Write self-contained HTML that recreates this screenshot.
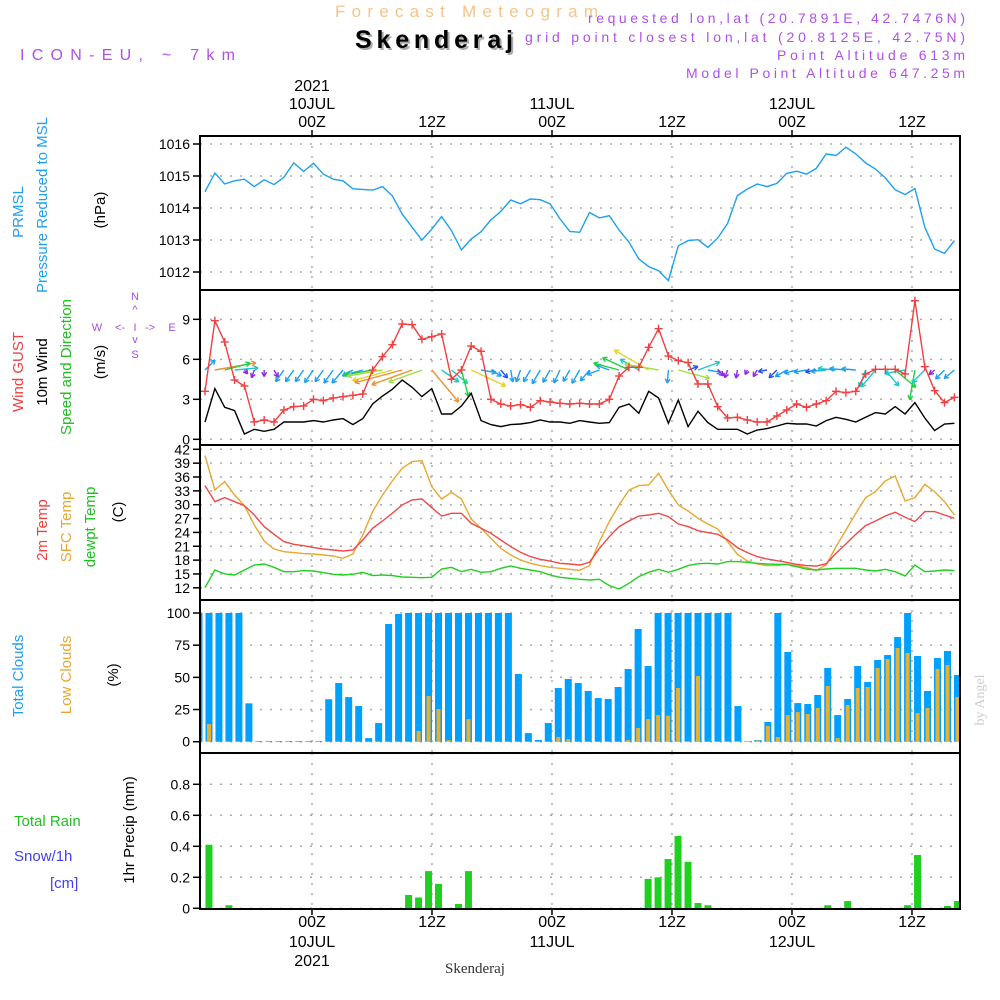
<!DOCTYPE html>
<html><head><meta charset="utf-8">
<style>
html,body{margin:0;padding:0;background:#fff;}
svg{display:block;font-family:"Liberation Sans",sans-serif;}
</style></head>
<body>
<svg id="chart" width="1000" height="1000" viewBox="0 0 1000 1000" xmlns="http://www.w3.org/2000/svg">
<rect x="0" y="0" width="1000" height="1000" fill="#fff"/>
<text x="335" y="17" font-size="17" fill="#f5c489" textLength="263">Forecast Meteogram</text>
<text x="357" y="50" font-size="25" font-weight="bold" fill="#aaa" textLength="158">Skenderaj</text>
<text x="355" y="48" font-size="25" font-weight="bold" fill="#000" textLength="158">Skenderaj</text>
<text x="20" y="60" font-size="16" fill="#b050e6" textLength="215">ICON-EU, ~ 7km</text>
<text x="965" y="23" font-size="14" fill="#b050e6" text-anchor="end" textLength="377">requested lon,lat (20.7891E, 42.7476N)</text>
<text x="965" y="42" font-size="14" fill="#b050e6" text-anchor="end" textLength="440">grid point closest lon,lat (20.8125E, 42.75N)</text>
<text x="965" y="60" font-size="14" fill="#b050e6" text-anchor="end" textLength="188">Point Altitude 613m</text>
<text x="965" y="78" font-size="14" fill="#b050e6" text-anchor="end" textLength="279">Model Point Altitude 647.25m</text>
<text x="475" y="973" font-size="15" fill="#333" text-anchor="middle" font-family="Liberation Serif, serif">Skenderaj</text>
<text transform="translate(984,700) rotate(-90)" font-size="14" fill="#ccc" text-anchor="middle" font-family="Liberation Serif, serif">by Angel</text>
<g id="layer"></g>
</svg>
<script>
// ---- data (hourly, index 0..76) ----
const pressure = [1014.51,1015.09,1014.75,1014.85,1014.9,1014.67,1014.88,1014.73,1014.96,1015.41,1015.14,1015.4,1015.06,1014.9,1014.85,1014.6,1014.58,1014.56,1014.67,1014.38,1013.81,1013.4,1013.0,1013.34,1013.73,1013.29,1012.69,1013.03,1013.26,1013.63,1013.89,1014.25,1014.13,1014.28,1014.26,1014.13,1013.66,1013.27,1013.24,1013.86,
1013.69,1013.76,1013.31,1012.93,1012.41,1012.17,1012.04,1011.73,1012.82,1012.98,1013.01,1012.77,1013.06,1013.52,1014.39,1014.59,1014.75,1014.67,1014.77,1015.08,1015.15,1015.06,1015.24,1015.69,1015.64,1015.9,1015.69,1015.41,1015.22,1014.94,1014.57,1014.42,1014.61,1013.4,1012.72,1012.58,1012.98];
const gust = [3.6,8.9,7.3,4.45,4.0,1.3,1.45,1.3,2.2,2.45,2.5,3.0,2.9,3.1,3.2,3.3,3.4,5.2,6.2,7.1,8.65,8.6,7.5,7.7,7.9,4.5,5.2,7.0,6.6,3.0,2.65,2.5,2.6,2.4,2.9,2.8,2.7,2.65,2.7,2.65,
2.65,3.0,4.75,5.4,5.4,6.9,8.3,6.25,5.9,5.75,4.15,4.15,2.45,1.6,1.65,1.45,1.3,1.3,1.75,2.2,2.65,2.4,2.65,2.9,3.6,3.5,3.6,4.9,5.25,5.25,5.25,4.9,10.4,5.45,3.65,2.75,3.15];
const wind10m = [1.3,3.8,2.4,2.15,0.4,0.75,0.6,0.75,1.3,1.3,1.3,1.4,1.3,1.45,1.55,1.1,1.55,2.65,3.25,3.75,4.45,3.9,3.2,3.8,1.9,1.9,2.5,3.45,1.4,1.1,0.95,1.1,1.15,1.25,1.45,1.3,1.3,1.2,1.4,1.3,
1.2,1.25,2.4,2.65,1.95,3.6,3.1,1.2,2.95,0.95,2.1,1.25,0.75,0.75,0.75,0.4,0.7,0.8,1.0,1.2,1.15,1.15,1.0,1.4,1.65,1.5,1.3,1.65,2.0,1.9,2.45,1.9,2.75,1.6,0.65,1.15,1.2];
const windDir = [225,260,255,265,320,20,0,330,35,35,35,35,35,35,40,60,75,80,80,75,75,70,70,320,305,310,345,295,280,300,320,350,20,30,30,30,25,30,30,40,
70,110,105,115,120,120,100,5,285,250,250,280,315,20,10,25,30,80,45,60,75,80,80,85,95,95,95,20,40,320,310,80,10,45,50,45,50];
const temp2m = [34.13,30.66,31.53,30.66,29.8,27.78,25.25,23.59,22.0,21.42,21.13,20.7,20.41,20.2,19.98,20.2,22.36,24.89,26.48,28.14,29.95,31.03,31.24,29.36,27.56,28.14,28.14,25.97,24.89,23.8,22.36,20.92,19.69,18.75,18.17,17.81,17.31,17.16,16.95,
17.52,20.56,23.08,25.25,26.48,27.56,27.78,28.14,27.42,25.83,25.25,24.38,23.95,23.59,22.36,20.7,19.62,18.75,18.25,17.88,17.52,17.09,16.8,16.73,17.23,19.47,21.49,23.59,25.47,26.48,27.56,28.35,27.27,26.33,28.5,28.5,27.78,27.05];
const tempSfc = [40.63,33.19,35.0,32.11,29.8,25.61,22.14,20.41,19.83,19.62,19.4,19.33,19.11,18.9,18.39,19.33,23.44,28.5,32.11,35.14,37.88,39.33,39.55,33.91,31.24,32.69,31.24,26.91,24.89,22.72,20.56,19.11,18.03,17.31,16.8,16.44,16.22,16.0,15.79,
16.8,22.0,26.33,29.95,33.19,34.13,34.27,36.8,33.19,29.95,28.64,27.05,25.83,24.74,22.0,19.26,17.81,17.16,16.8,16.8,17.09,16.8,16.37,15.79,16.95,20.92,24.53,28.14,31.53,32.83,35.14,36.22,30.8,31.53,34.42,32.83,30.66,27.78];
const dewpt = [12.04,15.86,15.0,14.78,15.86,16.95,17.16,16.44,15.5,15.5,15.72,15.65,15.29,14.92,14.78,14.92,15.36,14.64,14.78,14.64,14.35,14.27,14.2,14.27,16.08,16.44,15.5,16.0,15.36,15.5,16.22,16.73,16.22,15.86,15.5,14.78,14.27,14.06,13.84,
13.7,13.84,12.47,11.75,12.97,14.42,15.36,16.01,15.36,16.01,16.8,17.23,17.31,17.16,17.67,17.67,17.52,17.31,17.16,17.09,17.09,16.58,16.08,15.86,16.08,16.22,16.22,16.22,15.86,15.65,16.01,15.5,14.56,16.95,15.5,15.65,15.86,15.72];
const totalClouds = [100,100,100,100,100,29.8,0.5,0.5,0.5,0.5,0.5,0.5,0.5,33,45.6,34.7,27.7,2.8,14.5,91.5,99.2,100,100,100,100,100,100,100,100,100,100,100,52.6,6.7,1.3,14.5,41.7,48.7,45.6,
39.4,33.9,33.2,42.5,56.5,87.6,58.8,100,100,100,100,100,100,100,100,27.7,0.5,1.3,15.3,100,69.7,30,29.3,36.3,57.3,20.7,33.2,58.8,46.4,63.5,67.4,81.3,100,66.6,39.4,65,70.5,51.8];
const lowClouds = [0,13.7,0,0,0,0,0,0,0,0,0,0,0,0,0,0,0,0,0,0,0,0,8.3,35.5,25.4,1.3,0,17.6,0,0,0,0,0,0,0,0,3.6,2,0,
0,0,0,0,1.3,10.6,17.6,20.7,20.2,41.7,0.3,51,0,0,0,0.5,0.5,1,12.2,3.6,20.7,23,21.5,26.2,43.3,2.8,28.5,41.7,42.5,57.3,64.2,72.8,68.9,22.3,26.2,56.5,59.6,34.7];
const precip = [0,0.41,0,0.02,0,0,0,0,0,0,0,0,0,0,0,0,0,0,0,0,0,0.086,0.07,0.24,0.157,0,0.028,0.24,0,0,0,0,0,0,0,0,0,0,0,
0,0,0,0,0,0,0.19,0.2,0.318,0.467,0.3,0.034,0.02,0,0,0,0,0,0,0,0,0,0,0,0.02,0,0.047,0,0,0,0,0,0.02,0.344,0,0,0.015,0.047];
const pressTicks = [1016,1015,1014,1013,1012];
const windTicks = [9,6,3,0];
const tempTicks = [42,39,36,33,30,27,24,21,18,15,12];
const cloudTicks = [100,75,50,25,0];
const precipTicks = [0.8,0.6,0.4,0.2,0];
const timeHours = [0,12,24,36,48,60];
const timeLabels = [["00Z","10JUL","2021"],["12Z"],["00Z","11JUL"],["12Z"],["00Z","12JUL"],["12Z"]];

// ---- scales ----
const X0 = 200, X1 = 960;
const xPt = i => 205 + i * 9.86;
const xBar = k => 199 + k * 9.98;
const xHour = h => 312 + h * 10;
const yP = v => 144 + (1016 - v) * 32;
const yW = v => 439.3 - v * 13.33;
const yT = v => 449.3 + (42 - v) * 4.617;
const yC = v => 741.7 - v * 1.287;
const yR = v => 908.3 - v * 155;
const panels = [[136,290],[290,445],[445,600],[600,753],[753,909]];

const NS = "http://www.w3.org/2000/svg";
const layer = document.getElementById('layer');
function mk(tag, attrs, parent){
  const e = document.createElementNS(NS, tag);
  for (const k in attrs) e.setAttribute(k, attrs[k]);
  (parent || layer).appendChild(e);
  return e;
}
function txt(s, attrs){ const t = mk('text', attrs); t.textContent = s; return t; }

function hgrid(vals, fy, name){
  vals.forEach(v => {
    const l = mk('line', {x1:X0, x2:X1, y1:fy(v), y2:fy(v), stroke:'#aaa', 'stroke-width':1.5, 'stroke-dasharray':'2,8'});
    
    
    mk('line', {x1:X0-7, x2:X0, y1:fy(v), y2:fy(v), stroke:'#000', 'stroke-width':1.5});
  });
}
hgrid(pressTicks, yP, 'pressure');
hgrid(windTicks, yW, 'wind');
hgrid(tempTicks, yT, 'temp');
hgrid(cloudTicks, yC, 'cloud');
hgrid(precipTicks, yR, 'precip');
panels.forEach(p => {
  timeHours.forEach(h => {
    const l = mk('line', {x1:xHour(h), x2:xHour(h), y1:p[0], y2:p[1], stroke:'#aaa', 'stroke-width':1.5, 'stroke-dasharray':'2,8'});
    
    
  });
});

function ylabels(vals, fy, name, fmt){
  vals.forEach(v => {
    const t = txt(fmt ? fmt(v) : String(v), {x:X0-10, y:fy(v)+5, 'font-size':14, 'text-anchor':'end', fill:'#000'});
    
    
  });
}
ylabels(pressTicks, yP, 'pressure');
ylabels(windTicks, yW, 'wind');
ylabels(tempTicks, yT, 'temp');
ylabels(cloudTicks, yC, 'cloud');
ylabels(precipTicks, yR, 'precip', v => v === 0 ? '0' : v.toFixed(1));

timeHours.forEach((h, j) => {
  const x = xHour(h);
  const lab = timeLabels[j];
  mk('line', {x1:x, x2:x, y1:130, y2:136, stroke:'#000', 'stroke-width':1.5});
  mk('line', {x1:x, x2:x, y1:909, y2:915, stroke:'#000', 'stroke-width':1.5});
  const t0 = txt(lab[0], {x:x, y:127, 'font-size':16, 'text-anchor':'middle'});
  
  
  const b0 = txt(lab[0], {x:x, y:927, 'font-size':16, 'text-anchor':'middle'});
  
  
  if (lab[1]) {
    const t1 = txt(lab[1], {x:x, y:109, 'font-size':16, 'text-anchor':'middle'});
    
    
    const b1 = txt(lab[1], {x:x, y:947, 'font-size':16, 'text-anchor':'middle'});
    
    
  }
  if (lab[2]) {
    const t2 = txt(lab[2], {x:x, y:91, 'font-size':16, 'text-anchor':'middle'});
    
    
    const b2 = txt(lab[2], {x:x, y:966, 'font-size':16, 'text-anchor':'middle'});
    
    
  }
});

function polyline(vals, fx, fy, color, name){
  const pts = vals.map((v, i) => fx(i).toFixed(1) + ',' + fy(v).toFixed(1)).join(' ');
  const p = mk('polyline', {points:pts, fill:'none', stroke:color, 'stroke-width':1.4});
  
  
  return p;
}

polyline(pressure, xPt, yP, '#1ea0f0', 'pressure-line');

function speedColor(s){
  if (s < 0.8) return '#8a2be2';
  if (s < 1.1) return '#2850f0';
  if (s < 1.6) return '#1ea0f0';
  if (s < 2.2) return '#20c8c8';
  if (s < 2.8) return '#20d040';
  if (s < 3.3) return '#a0e040';
  if (s < 3.8) return '#e8d030';
  return '#f09030';
}
wind10m.forEach((s, i) => {
  const d = windDir[i] * Math.PI / 180;
  const L = Math.max(5, s * 11);
  const x0 = xPt(i), y0 = 370;
  const vx = -Math.sin(d), vy = Math.cos(d);
  const x1 = x0 + vx * L, y1 = y0 + vy * L;
  const c = speedColor(s);
  const g = mk('g', {stroke:c, 'stroke-width':1.4, fill:'none'});
  
  
  mk('line', {x1:x0, y1:y0, x2:x1, y2:y1}, g);
  const a = Math.atan2(vy, vx);
  [0.5, -0.5].forEach(o => {
    mk('line', {x1:x1, y1:y1, x2:x1 - 5*Math.cos(a+o), y2:y1 - 5*Math.sin(a+o)}, g);
  });
});
polyline(wind10m, xPt, yW, '#000', 'wind-speed-line');
polyline(gust, xPt, yW, '#f04040', 'wind-gust-line');
gust.forEach((v, i) => {
  const x = xPt(i), y = yW(v);
  const g = mk('g', {stroke:'#f04040', 'stroke-width':1.4});
  
  
  mk('line', {x1:x-4, x2:x+4, y1:y, y2:y}, g);
  mk('line', {x1:x, x2:x, y1:y-4, y2:y+4}, g);
});

polyline(tempSfc, xPt, yT, '#e8a830', 'sfc-temp-line');
polyline(temp2m, xPt, yT, '#f04848', 'temp-2m-line');
polyline(dewpt, xPt, yT, '#20d020', 'dewpt-line');

totalClouds.forEach((v, k) => {
  const x = xBar(k), y = yC(v);
  let xl = Math.max(X0 + 1, x - 3.5), xr = Math.min(X1 - 1, x + 3.5);
  if (xr <= xl) return;
  const r = mk('rect', {x:xl, y:y, width:xr - xl, height:Math.max(0.5, yC(0) - y), fill:'#00a0ff'});
  
  
});
lowClouds.forEach((v, k) => {
  if (v <= 0) return;
  const x = xBar(k), y = yC(v);
  const r = mk('rect', {x:x - 2, y:y, width:4, height:yC(0) - y, fill:'#e8b030'});
  
  
});

precip.forEach((v, k) => {
  if (v <= 0) return;
  const x = xBar(k), y = yR(v);
  let xl = Math.max(X0 + 1, x - 3.5), xr = Math.min(X1 - 1, x + 3.5);
  const r = mk('rect', {x:xl, y:y, width:xr - xl, height:yR(0) - y, fill:'#20d020'});
  
  
});

panels.forEach((p, j) => {
  const r = mk('rect', {x:X0, y:p[0], width:X1 - X0, height:p[1] - p[0], fill:'none', stroke:'#000', 'stroke-width':2});
  
  
});

function vtxt(s, x, y, color, name){
  const t = txt(s, {transform:'translate(' + x + ',' + y + ') rotate(-90)', 'font-size':15, fill:color, 'text-anchor':'middle'});
  
  
}
vtxt('PRMSL', 23, 212, '#1ea0f0', 'prmsl-title');
vtxt('Pressure Reduced to MSL', 47, 205, '#1ea0f0', 'pressure-title');
vtxt('(hPa)', 105, 210, '#000', 'pressure-unit');
vtxt('Wind GUST', 23, 372, '#f04040', 'gust-title');
vtxt('10m Wind', 47, 372, '#000', 'wind-title');
vtxt('Speed and Direction', 71, 367, '#20c020', 'wind-dir-title');
vtxt('(m/s)', 105, 362, '#000', 'wind-unit');
vtxt('2m Temp', 47, 530, '#f04040', 'temp-2m-title');
vtxt('SFC Temp', 71, 527, '#e8a830', 'sfc-temp-title');
vtxt('dewpt Temp', 95, 527, '#20c020', 'dewpt-title');
vtxt('(C)', 123, 512, '#000', 'temp-unit');
vtxt('Total Clouds', 23, 676, '#1ea0f0', 'total-clouds-title');
vtxt('Low Clouds', 71, 675, '#e8a830', 'low-clouds-title');
vtxt('(%)', 118, 675, '#000', 'cloud-unit');
vtxt('1hr Precip (mm)', 134, 830, '#000', 'precip-title');

[['Total  Rain', 14, 826, '#20c020', 'rain-legend'], ['Snow/1h', 14, 861, '#4040f0', 'snow-legend'], ['[cm]', 50, 888, '#4040f0', 'snow-unit']].forEach(a => {
  const t = txt(a[0], {x:a[1], y:a[2], 'font-size':15, fill:a[3], 'xml:space':'preserve'});
  
  
});

const comp = [['N', 135, 300], ['S', 135, 358], ['W', 97, 331], ['E', 172, 331], ['<-', 120, 331], ['->', 150, 331], ['I', 135, 331], ['^', 135, 313], ['v', 135, 343]];
comp.forEach(c => {
  const t = txt(c[0], {x:c[1], y:c[2], 'font-size':11, fill:'#a050e0', 'text-anchor':'middle'});
  
  
});
</script>
</body></html>
